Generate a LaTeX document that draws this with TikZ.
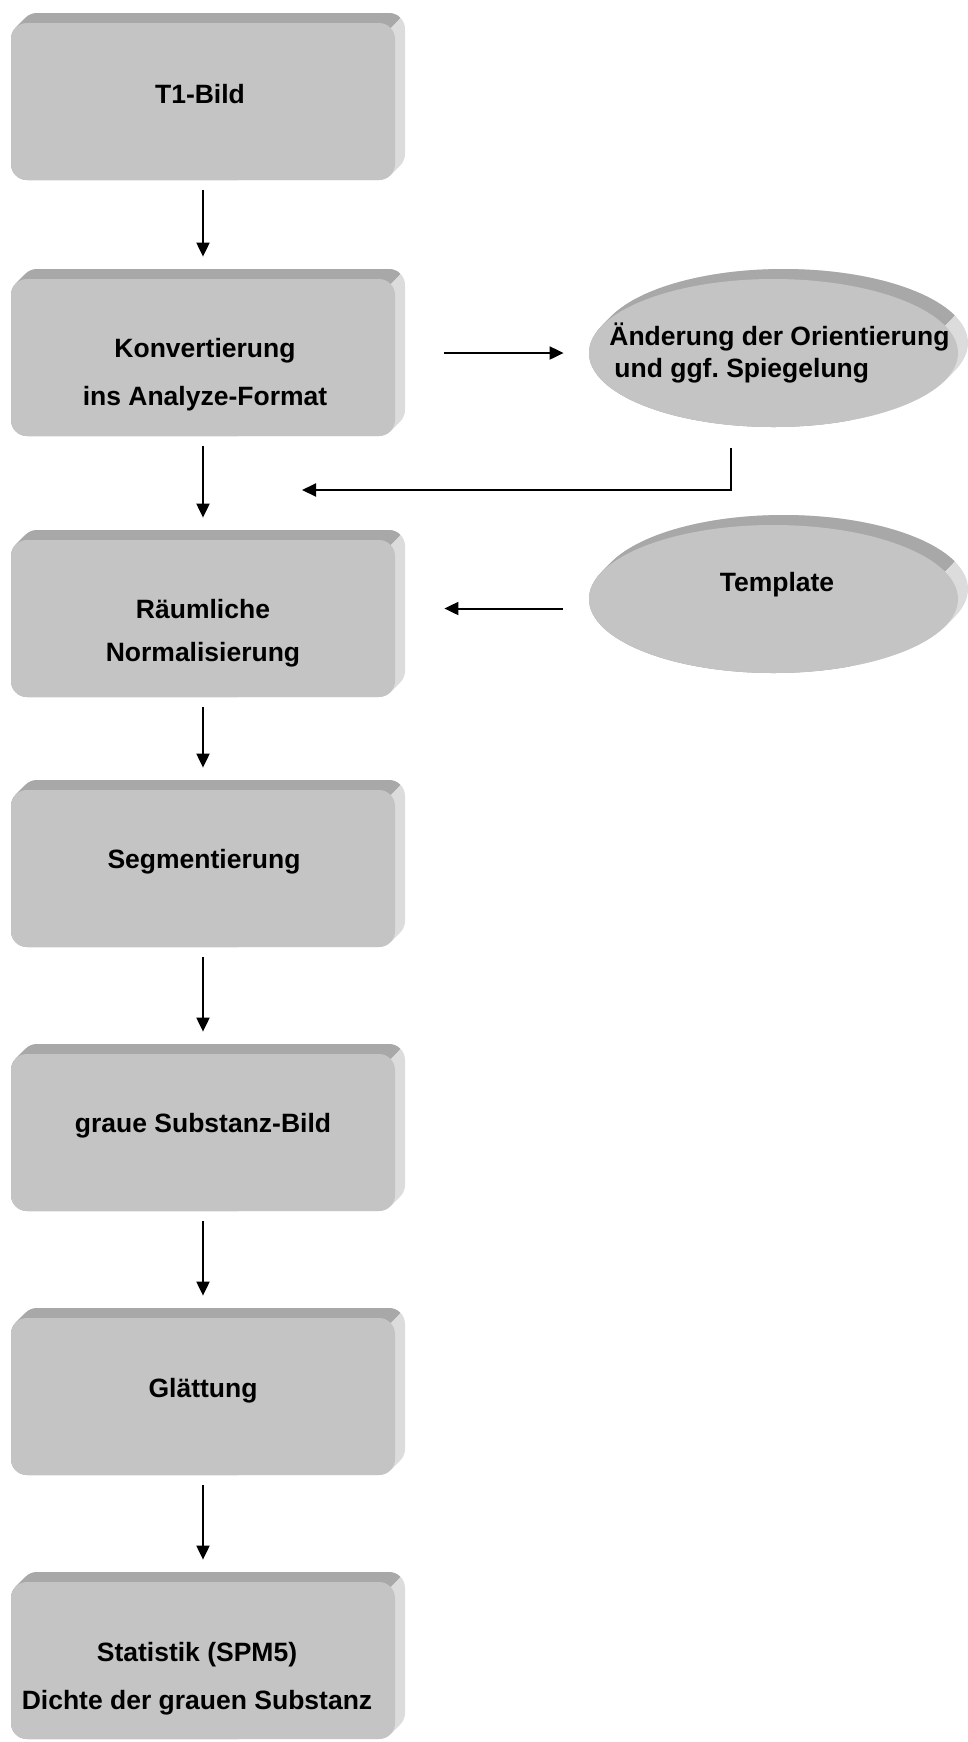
\documentclass[tikz,border=0pt]{standalone}
\usepackage{fontspec}
\setmainfont{Liberation Sans}
\usetikzlibrary{arrows.meta,shapes.geometric,calc}
\frenchspacing
\definecolor{facecol}{HTML}{C4C4C4}
\definecolor{topcol}{HTML}{A8A8A8}
\definecolor{sidecol}{HTML}{DCDCDC}
% #1 left x of face, #2 top y of face (px, y downwards)
\newcommand\hullbox[2]{%
  \begin{scope}
    \foreach \ii in {0,1,...,10}{\fill[sidecol, rounded corners=8pt] (#1+\ii,#2-\ii) rectangle ++(384,157);}
    \clip (#1+379.3+1000,#2+4.7-1000) -- (#1+379.3-1000,#2+4.7+1000) -- (#1+379.3-1000,#2+4.7-1000) -- cycle;
    \foreach \ii in {0,1,...,10}{\fill[topcol, rounded corners=8pt] (#1+\ii,#2-\ii) rectangle ++(384,157);}
  \end{scope}}
% #1 cx, #2 cy of front ellipse (px)
\newcommand\hullell[2]{%
  \begin{scope}
    \foreach \ii in {0,1,...,10}{\fill[sidecol] (#1+\ii,#2-\ii) ellipse [x radius=92.25pt, y radius=37pt];}
    \clip (#1+171+1000,#2-27.7-1000) -- (#1+171-1000,#2-27.7+1000) -- (#1+171-1000,#2-27.7-1000) -- cycle;
    \foreach \ii in {0,1,...,10}{\fill[topcol] (#1+\ii,#2-\ii) ellipse [x radius=92.25pt, y radius=37pt];}
  \end{scope}}
\tikzset{
  boxface/.style={rectangle, rounded corners=8pt, fill=facecol, minimum width=192pt, minimum height=78.5pt, inner sep=0pt},
  ellface/.style={ellipse, fill=facecol, minimum width=184.5pt, minimum height=74pt, inner sep=0pt},
  lbl/.style={font=\bfseries\fontsize{13.25pt}{16pt}\selectfont, inner sep=0pt, anchor=base},
  arr/.style={line width=1pt, -{Triangle[length=7pt,width=6.5pt]}},
  downarr/.style={arr, shorten <=5pt, shorten >=11pt},
}
\begin{document}
\begin{tikzpicture}[x=0.5pt,y=-0.5pt]
\useasboundingbox (0,0) rectangle (968,1742);

% boxes
\hullbox{11}{23}
\node[boxface] (b1) at (203,101.5) {};
\node[lbl] (t1) at (200,103) {T1-Bild};

\hullbox{11}{279}
\node[boxface] (b2) at (203,357.5) {};
\node[lbl] (t2a) at (205,357.5) {Konvertierung};
\node[lbl] (t2b) at (205,405.5) {ins Analyze-Format};

\hullbox{11}{540}
\node[boxface] (b3) at (203,618.5) {};
\node[lbl] (t3a) at (203,618.5) {Räumliche};
\node[lbl] (t3b) at (203,661.5) {Normalisierung};

\hullbox{11}{790}
\node[boxface] (b4) at (203,868.5) {};
\node[lbl] (t4) at (204,868.5) {Segmentierung};

\hullbox{11}{1054}
\node[boxface] (b5) at (203,1132.5) {};
\node[lbl] (t5) at (203,1132.5) {graue Substanz-Bild};

\hullbox{11}{1318}
\node[boxface] (b6) at (203,1396.5) {};
\node[lbl] (t6) at (203,1397.5) {Glättung};

\hullbox{11}{1582}
\node[boxface] (b7) at (203,1660.5) {};
\node[lbl] (t7a) at (197,1661.5) {Statistik (SPM5)};
\node[lbl] (t7b) at (197,1709.5) {Dichte der grauen Substanz};

% ellipses
\hullell{773.5}{353}
\node[ellface] (e1) at (773.5,353) {};
\node[lbl, anchor=base west] (e1a) at (609,345.5) {Änderung der Orientierung};
\node[lbl, anchor=base west] (e1b) at (614,377.5) {und ggf. Spiegelung};

\hullell{773.5}{599}
\node[ellface] (e2) at (773.5,599) {};
\node[lbl] (e2a) at (777,591.5) {Template};

% vertical flow
\draw[downarr] (b1.south) -- (b2.north);
\draw[downarr] (b2.south) -- (b3.north);
\draw[downarr] (b3.south) -- (b4.north);
\draw[downarr] (b4.south) -- (b5.north);
\draw[downarr] (b5.south) -- (b6.north);
\draw[downarr] (b6.south) -- (b7.north);

% side connectors
\draw[arr, shorten <=24.5pt, shorten >=12.5pt] (b2.east |- e1.center) -- (e1.west);
\coordinate (m1) at (302,490);
\draw[arr] ([xshift=-21.25pt,yshift=-10.5pt]e1.south) |- (m1);
\draw[arr, shorten <=13pt, shorten >=24.5pt] ([yshift=-4.75pt]e2.west) -- ([yshift=-4.75pt]e2.west -| b3.east);
\end{tikzpicture}
\end{document}
